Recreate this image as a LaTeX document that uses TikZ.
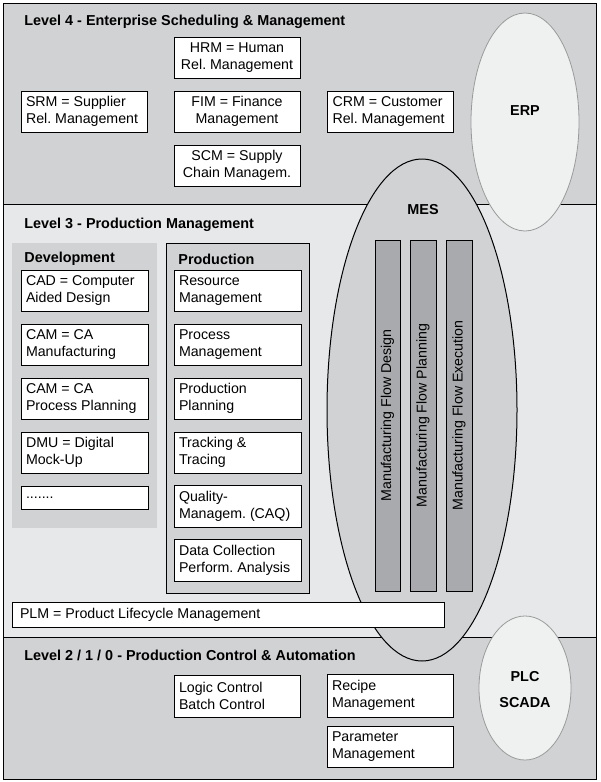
\documentclass[tikz,border=0pt]{standalone}
\usepackage{fontspec}
\setmainfont{Liberation Sans}
\usetikzlibrary{shapes.geometric}
\frenchspacing

\definecolor{bandgray}{HTML}{D1D2D4}
\definecolor{lightband}{HTML}{E7E8E9}
\definecolor{bargray}{HTML}{A9AAAD}
\definecolor{ovalfill}{HTML}{EFF0F0}
\definecolor{ovalline}{HTML}{9A9A9A}

\begin{document}
\begin{tikzpicture}[x=1pt, y=-1pt, line width=0.8pt,
  every node/.style={font=\fontsize{14.2}{17}\selectfont},
  modbox/.style={draw, fill=white, minimum width=126pt, minimum height=41pt,
    text width=116pt, inner xsep=5pt, inner ysep=0pt, align=flush left},
  midbox/.style={modbox, align=flush center},
  wide/.style={minimum width=127pt, text width=117pt},
  title/.style={font=\fontsize{14.4}{17}\selectfont\bfseries, inner sep=0pt},
  bar/.style={draw, fill=bargray, minimum width=351pt, minimum height=25pt, inner sep=0pt},
  oval/.style={ellipse, draw=ovalline, fill=ovalfill, inner sep=0pt}]

  \useasboundingbox (0,0) rectangle (600,782);

  % levels
  \draw[fill=bandgray] (3,3) rectangle (596,204);
  \draw[fill=lightband] (3,204) rectangle (596,637);
  \draw[fill=bandgray] (3,637) rectangle (596,779);

  % level 4
  \node[title, anchor=west] (lvl4) at (24,22) {Level 4 - Enterprise Scheduling \& Management};
  \node[midbox] (hrm) at (237,57.5) {HRM = Human\\Rel. Management};
  \node[modbox] (srm) at (84,111.5) {SRM = Supplier\\Rel. Management};
  \node[midbox] (fim) at (237,111.5) {FIM = Finance\\Management};
  \node[modbox] (crm) at (390.5,111.5) {CRM = Customer\\Rel. Management};
  \node[midbox] (scm) at (237,165.5) {SCM = Supply\\Chain Managem.};

  \node[oval, minimum width=108pt, minimum height=218pt] (erp) at (525,122) {};
  \node[title] (erplabel) at (525,111) {ERP};

  % level 3
  \node[title, anchor=west] (lvl3) at (24,224.5) {Level 3 - Production Management};
  \path[fill=bandgray] (12,243) rectangle (157,528);
  \draw[fill=bandgray] (166,243) rectangle (309,593);
  \node[title, anchor=west] (devlabel) at (24,259) {Development};
  \node[title, anchor=west] (prodlabel) at (178,259) {Production};

  \node[modbox, wide] (cad) at (84.5,290.5) {CAD = Computer\\Aided Design};
  \node[modbox, wide] (cam) at (84.5,344.5) {CAM = CA\\Manufacturing};
  \node[modbox, wide] (capp) at (84.5,398.5) {CAM = CA\\Process Planning};
  \node[modbox, wide] (dmu) at (84.5,452.5) {DMU = Digital\\Mock-Up};
  \node[modbox, wide, minimum height=23pt] (more) at (84.5,497.5) {.......};

  \node[modbox, wide] (res) at (237.5,290.5) {Resource\\Management};
  \node[modbox, wide] (proc) at (237.5,344.5) {Process\\Management};
  \node[modbox, wide] (plan) at (237.5,398.5) {Production\\Planning};
  \node[modbox, wide] (track) at (237.5,452.5) {Tracking \&\\Tracing};
  \node[modbox, wide, minimum height=42pt] (caq) at (237.5,506) {Quality-\\Managem. (CAQ)};
  \node[modbox, wide, minimum height=42pt] (dca) at (237.5,560) {Data Collection\\Perform. Analysis};

  \node[ellipse, draw=black, fill=bandgray, line width=1pt, inner sep=0pt,
    minimum width=190pt, minimum height=502pt] (mes) at (422,410) {};
  \node[title] (meslabel) at (423,210) {MES};
  \node[bar, rotate=90] (flowdesign) at (387.5,415.5) {Manufacturing Flow Design};
  \node[bar, rotate=90, minimum height=26pt] (flowplan) at (423,415.5) {Manufacturing Flow Planning};
  \node[bar, rotate=90, minimum height=26pt] (flowexec) at (459,415.5) {Manufacturing Flow Execution};

  \node[modbox, minimum width=432pt, text width=416pt, inner xsep=8pt, minimum height=25pt] (plm) at (228,614.5) {PLM = Product Lifecycle Management};

  % level 2 / 1 / 0
  \node[title, anchor=west] (lvl2) at (24,655.5) {Level 2 / 1 / 0 - Production Control \& Automation};
  \node[modbox, minimum height=42pt] (logic) at (237,696) {Logic Control\\Batch Control};
  \node[modbox, minimum height=43pt] (recipe) at (390,695.5) {Recipe\\Management};
  \node[modbox] (param) at (390,746.5) {Parameter\\Management};

  \node[oval, minimum width=92pt, minimum height=144pt] (plc) at (525,688) {};
  \node[title] (plclabel) at (525,677) {PLC};
  \node[title] (scadalabel) at (525,703) {SCADA};

\end{tikzpicture}
\end{document}
